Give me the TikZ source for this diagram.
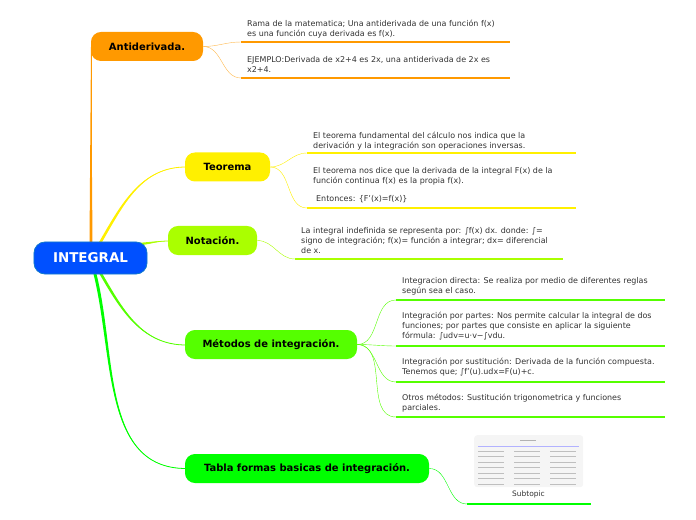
\documentclass[tikz,border=0pt]{standalone}
\usepackage{fontspec}
\setmainfont{DejaVu Sans}
\usetikzlibrary{positioning}
\definecolor{color1}{RGB}{0,80,255}
\definecolor{color2}{RGB}{255,153,0}
\definecolor{color3}{RGB}{255,240,0}
\definecolor{color4}{RGB}{170,255,0}
\definecolor{color5}{RGB}{85,255,0}
\definecolor{color6}{RGB}{0,255,0}
\definecolor{textgray}{RGB}{50,50,50}

\begin{document}
\begin{tikzpicture}[x=1bp,y=-1bp,font=\fontsize{8}{10}\selectfont]

    \useasboundingbox (0,0) rectangle (696,520);

    \tikzset{
    % Styles for the central topic, the main topics and the notes
    main/.style={rectangle, rounded corners=11, draw=cyan!60!blue, fill=color1, thick,
        minimum width=113bp, minimum height=32bp, text=white, font=\fontsize{13.5}{15}\selectfont\bfseries},
    topic/.style={rectangle, rounded corners=10, minimum height=29bp, inner sep=0,
        font=\fontsize{10}{12}\selectfont\bfseries},
    note/.style={anchor=north west, inner sep=0, align=left, text=textgray},
    branch/.style={line width=0.8bp},
    line/.style={line width=2bp}
    }

    % Branches from the central topic (thick at the start, thin at the end)
    \coordinate (o1) at (91,242);
    \coordinate (o2) at (100,243);
    \coordinate (o3) at (140,244);
    \coordinate (o4) at (101,274);
    \coordinate (o5) at (95,274);
    \fill[color2] (89.5,243) -- (91,47) -- (92.5,243) -- cycle;
    \draw[color2, branch] (o1) -- (91,47);
    \fill[color3] (98.5,243) to[out=60,in=180] (186,167) to[out=180,in=60] (101.5,243) -- cycle;
    \draw[color3, branch] (o2) to[out=60,in=180] (186,167);
    \fill[color4] (140,242.8) to[out=5,in=180] (169,241) to[out=180,in=5] (140,245.2) -- cycle;
    \draw[color4, branch] (o3) to[out=5,in=180] (169,241);
    \fill[color5] (99.5,274) to[out=-60,in=180] (186,345) to[out=180,in=-60] (102.5,274) -- cycle;
    \draw[color5, branch] (o4) to[out=-60,in=180] (186,345);
    \fill[color6] (93.5,274) to[out=-76,in=180] (186,468.5) to[out=180,in=-76] (96.5,274) -- cycle;
    \draw[color6, branch] (o5) to[out=-76,in=180] (186,468.5);

    % Central topic and main topics
    \node at (90.5,258)[main] (integral) {INTEGRAL};
    \node at (147,46.5)[topic, fill=color2, minimum width=112bp] (anti) {Antiderivada.};
    \node at (227.5,167)[topic, fill=color3, minimum width=85bp] (teo) {Teorema};
    \node at (212.5,240.5)[topic, fill=color4, minimum width=89bp] (nota) {Notación.};
    \node at (271,344.5)[topic, fill=color5, minimum width=172bp] (met) {Métodos de integración.};
    \node at (307,468.5)[topic, fill=color6, minimum width=244bp] (tabla) {Tabla formas basicas de integración.};

    % Antiderivada.
    \node at (247,20)[note] (a1) {Rama de la matematica; Una antiderivada de una función f(x)\\es una función cuya derivada es f(x).};
    \node at (247,56)[note] (a2) {EJEMPLO:Derivada de x2+4 es 2x, una antiderivada de 2x es\\x2+4.};
    \coordinate (a1s) at (241,42);  \coordinate (a1e) at (510,42);
    \coordinate (a2s) at (241,78);  \coordinate (a2e) at (510,78);
    \draw[color2!70] (anti.east) to[out=0,in=180] (a1s);
    \draw[color2!70] (anti.east) to[out=0,in=180] (a2s);
    \draw[color2, line] (a1s) -- (a1e);
    \draw[color2, line] (a2s) -- (a2e);

    % Teorema
    \node at (313,132)[note] (t1) {El teorema fundamental del cálculo nos indica que la\\derivación y la integración son operaciones inversas.};
    \node at (313,167)[note] (t2) {El teorema nos dice que la derivada de la integral F(x) de la\\función continua f(x) es la propia f(x).\\[8bp]\hspace{3bp}Entonces: \{F'(x)=f(x)\}};
    \coordinate (t1s) at (307,153);  \coordinate (t1e) at (576,153);
    \coordinate (t2s) at (307,208);  \coordinate (t2e) at (576,208);
    \draw[color3] (teo.east) to[out=0,in=180] (t1s);
    \draw[color3] (teo.east) to[out=0,in=180] (t2s);
    \draw[color3, line] (t1s) -- (t1e);
    \draw[color3, line] (t2s) -- (t2e);

    % Notación.
    \node at (301,227)[note] (n1) {La integral indefinida se representa por: ∫f(x) dx. donde: ∫=\\signo de integración; f(x)= función a integrar; dx= diferencial\\de x.};
    \coordinate (n1s) at (295,259);  \coordinate (n1e) at (563,259);
    \draw[color4] (nota.east) to[out=0,in=180] (n1s);
    \draw[color4, line] (n1s) -- (n1e);

    % Métodos de integración.
    \node at (402,277)[note] (m1) {Integracion directa: Se realiza por medio de diferentes reglas\\según sea el caso.};
    \node at (402,312)[note] (m2) {Integración por partes: Nos permite calcular la integral de dos\\funciones; por partes que consiste en aplicar la siguiente\\fórmula: ∫udv=u·v−∫vdu.};
    \node at (402,358)[note] (m3) {Integración por sustitución: Derivada de la función compuesta.\\Tenemos que; ∫f'(u).udx=F(u)+c.};
    \node at (402,394)[note] (m4) {Otros métodos: Sustitución trigonometrica y funciones\\parciales.};
    \coordinate (m1s) at (396,300);  \coordinate (m1e) at (665,300);
    \coordinate (m2s) at (396,346);  \coordinate (m2e) at (665,346);
    \coordinate (m3s) at (396,382);  \coordinate (m3e) at (665,382);
    \coordinate (m4s) at (396,417);  \coordinate (m4e) at (665,417);
    \draw[color5] (met.east) to[out=0,in=180] (m1s);
    \draw[color5] (met.east) to[out=0,in=180] (m2s);
    \draw[color5] (met.east) to[out=0,in=180] (m3s);
    \draw[color5] (met.east) to[out=0,in=180] (m4s);
    \draw[color5, line] (m1s) -- (m1e);
    \draw[color5, line] (m2s) -- (m2e);
    \draw[color5, line] (m3s) -- (m3e);
    \draw[color5, line] (m4s) -- (m4e);

    % Tabla formas basicas de integración.
    \node at (474,435)[rectangle, rounded corners=3, fill=gray!8, minimum width=109bp, minimum height=52bp, anchor=north west, inner sep=0] (img) {};
    \draw[gray!60, line width=0.6bp] (520,440) -- (536,440);
    \draw[blue!30, line width=0.5bp] (478,446) -- (579,446);
    \foreach \c in {0,1,2}
        \foreach \r in {0,...,6}
            \draw[gray!50, line width=0.5bp] (478+\c*36,451+\r*5.5) -- (504+\c*36,451+\r*5.5);
    \node at (528.5,494)[inner sep=0, font=\fontsize{7.5}{9}\selectfont, text=textgray] (sub) {Subtopic};
    \coordinate (s1s) at (467,504);  \coordinate (s1e) at (591,504);
    \draw[color6] (tabla.east) to[out=0,in=180] (s1s);
    \draw[color6, line] (s1s) -- (s1e);

\end{tikzpicture}
\end{document}
